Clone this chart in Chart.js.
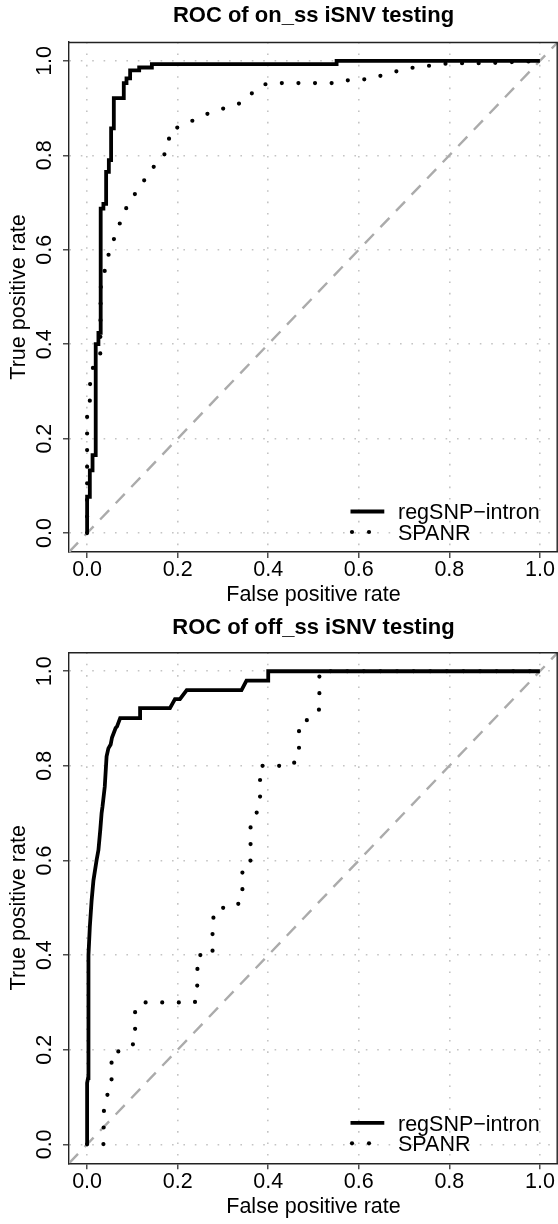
<!DOCTYPE html>
<html><head><meta charset="utf-8">
<script src="https://cdn.jsdelivr.net/npm/chart.js@4.4.1/dist/chart.umd.min.js"></script>
<style>html,body{margin:0;padding:0;background:#fff;overflow:hidden;} canvas{display:block;}</style>
</head><body>
<canvas id="c1" width="558" height="612"></canvas>
<canvas id="c2" width="558" height="612"></canvas>
<script>
// ---- data ----
const titles = ['ROC of on_ss iSNV testing', 'ROC of off_ss iSNV testing'];
const seriesNames = ['regSNP\u2212intron', 'SPANR'];
const xAxisTitle = 'False positive rate';
const yAxisTitle = 'True positive rate';
const tickValues = [0, 0.2, 0.4, 0.6, 0.8, 1.0];
const tickLabels = ['0.0', '0.2', '0.4', '0.6', '0.8', '1.0'];
const axisRange = [-0.04, 1.04];

// on_ss: regSNP-intron
const onRegFpr = [0, 0, 0.006, 0.006, 0.012, 0.012, 0.019, 0.019, 0.025, 0.025, 0.030, 0.030, 0.036, 0.036, 0.042, 0.042, 0.048, 0.048, 0.053, 0.053, 0.059, 0.059, 0.081, 0.081, 0.087, 0.087, 0.095, 0.095, 0.115, 0.115, 0.143, 0.143, 0.551, 0.551, 1];
const onRegTpr = [0, 0.077, 0.077, 0.133, 0.133, 0.165, 0.165, 0.400, 0.400, 0.424, 0.424, 0.687, 0.687, 0.697, 0.697, 0.765, 0.765, 0.790, 0.790, 0.857, 0.857, 0.921, 0.921, 0.953, 0.953, 0.963, 0.963, 0.980, 0.980, 0.986, 0.986, 0.993, 0.993, 1, 1];
// on_ss: SPANR
const onSpFpr = [0, 0, 0.006, 0.006, 0.010, 0.023, 0.029, 0.030, 0.034, 0.048, 0.067, 0.089, 0.118, 0.148, 0.167, 0.180, 0.182, 0.209, 0.257, 0.313, 0.340, 0.380, 0.400, 0.555, 0.583, 0.620, 0.706, 0.800, 0.880, 1];
const onSpTpr = [0, 0.26, 0.28, 0.31, 0.345, 0.367, 0.375, 0.52, 0.536, 0.592, 0.644, 0.694, 0.736, 0.777, 0.795, 0.820, 0.853, 0.862, 0.885, 0.903, 0.911, 0.945, 0.953, 0.953, 0.961, 0.961, 0.984, 0.995, 0.995, 1];
// off_ss: regSNP-intron
const offRegFpr = [0, 0, 0.002, 0.002, 0.004, 0.006, 0.010, 0.014, 0.021, 0.025, 0.029, 0.032, 0.034, 0.039, 0.043, 0.047, 0.052, 0.055, 0.063, 0.066, 0.073, 0.117, 0.117, 0.183, 0.194, 0.205, 0.220, 0.341, 0.352, 0.400, 0.400, 1];
const offRegTpr = [0, 0.13, 0.14, 0.30, 0.40, 0.46, 0.516, 0.558, 0.601, 0.622, 0.664, 0.700, 0.714, 0.756, 0.820, 0.837, 0.845, 0.860, 0.880, 0.883, 0.901, 0.901, 0.922, 0.922, 0.941, 0.941, 0.960, 0.960, 0.980, 0.980, 1, 1];
// off_ss: SPANR
const offSpFpr = [0, 0.036, 0.037, 0.042, 0.054, 0.054, 0.085, 0.106, 0.106, 0.128, 0.238, 0.243, 0.244, 0.277, 0.277, 0.287, 0.324, 0.343, 0.343, 0.361, 0.361, 0.374, 0.382, 0.382, 0.452, 0.468, 0.468, 0.496, 0.513, 0.513, 1];
const offSpTpr = [0, 0, 0.07, 0.10, 0.12, 0.193, 0.20, 0.215, 0.29, 0.30, 0.30, 0.32, 0.40, 0.40, 0.474, 0.50, 0.50, 0.516, 0.59, 0.60, 0.68, 0.70, 0.72, 0.80, 0.80, 0.82, 0.891, 0.90, 0.92, 1.0, 1];

// ---- rendering ----
const FONT = "'Liberation Sans', Arial, Helvetica, sans-serif";
const FS = 21.5;
const zipPts = (xs, ys) => xs.map((x, i) => ({x: x, y: ys[i]}));

const boxPlugin = {
  id: 'rBox',
  afterDraw(chart) {
    const {ctx, chartArea: a} = chart;
    ctx.save();
    ctx.strokeStyle = '#222'; ctx.lineWidth = 1.4;
    ctx.beginPath();
    ctx.moveTo(a.left, a.top + 0.5);
    ctx.lineTo(a.right - 0.8, a.top + 0.5);
    ctx.lineTo(a.right - 0.8, a.bottom);
    ctx.stroke();
    ctx.restore();
  }
};

const legendPlugin = {
  id: 'rLegend',
  afterDraw(chart) {
    const {ctx, chartArea: a} = chart;
    const x0 = a.right - 207.5, x1 = a.right - 173.7, tx = a.right - 160;
    const y1 = a.bottom - 40.5, y2 = a.bottom - 20;
    ctx.save();
    ctx.strokeStyle = '#000'; ctx.lineWidth = 3.8; ctx.lineCap = 'butt';
    ctx.beginPath(); ctx.moveTo(x0, y1); ctx.lineTo(x1, y1); ctx.stroke();
    ctx.fillStyle = '#000';
    [a.right - 206, a.right - 189].forEach(px => { ctx.beginPath(); ctx.arc(px, y2, 2.1, 0, 2 * Math.PI); ctx.fill(); });
    ctx.font = FS + 'px ' + FONT; ctx.textBaseline = 'middle'; ctx.textAlign = 'left';
    ctx.fillText(seriesNames[0], tx, y1 + 2);
    ctx.fillText(seriesNames[1], tx, y2 + 2);
    ctx.restore();
  }
};

function axisCommon(extra) {
  return Object.assign({
    type: 'linear',
    min: axisRange[0], max: axisRange[1],
    afterBuildTicks: s => { s.ticks = tickValues.map(v => ({value: v})); },
    grid: {color: '#c4c4c4', lineWidth: 1.6, drawTicks: true, tickLength: 6, tickColor: '#222', tickWidth: 1.2, tickBorderDash: []},
    border: {display: true, color: '#222', width: 1.4, dash: [1.6, 9.8]}
  }, extra);
}

function makeChart(id, cfg) {
  return new Chart(document.getElementById(id), {
    type: 'scatter',
    data: {
      datasets: [
        {label: seriesNames[0], data: zipPts(cfg.regFpr, cfg.regTpr), showLine: true, borderColor: '#000', borderWidth: 3.8, pointRadius: 0, borderJoinStyle: 'miter', borderCapStyle: 'butt', order: 0},
        {label: seriesNames[1], data: zipPts(cfg.spFpr, cfg.spTpr), showLine: true, borderColor: '#000', borderWidth: 4.2, borderDash: [0, 16.6], borderCapStyle: 'round', pointRadius: 0, order: 1},
        {label: 'chance', data: zipPts(axisRange, axisRange), showLine: true, borderColor: '#ababab', borderWidth: 2.4, borderDash: [13, 9.5], pointRadius: 0, order: 2}
      ]
    },
    options: {
      responsive: false, animation: false, devicePixelRatio: 1,
      layout: {padding: 0},
      events: [],
      plugins: {
        legend: {display: false}, tooltip: {enabled: false},
        title: {display: true, fullSize: false, text: cfg.title, color: '#000', font: {family: FONT, size: 22, weight: 'bold', lineHeight: 1.2}, padding: {top: cfg.tTop, bottom: cfg.tBottom}}
      },
      scales: {
        x: axisCommon({
          position: 'bottom',
          afterFit: s => { s.height = cfg.xH; },
          ticks: {color: '#000', font: {family: FONT, size: FS}, padding: -0.5, maxRotation: 0, minRotation: 0, callback: (v, i) => tickLabels[i]},
          title: {display: true, text: xAxisTitle, color: '#000', font: {family: FONT, size: FS}, padding: {top: 0, bottom: 4.5}}
        }),
        y: axisCommon({
          position: 'left',
          afterFit: s => { s.width = 69; },
          ticks: {color: '#000', font: {family: FONT, size: FS}, padding: 2.6, minRotation: 90, maxRotation: 90, crossAlign: 'center', callback: (v, i) => tickLabels[i]},
          title: {display: true, text: yAxisTitle, color: '#000', font: {family: FONT, size: FS}, padding: {top: 6.6, bottom: 0}}
        })
      }
    },
    plugins: [boxPlugin, legendPlugin]
  });
}

makeChart('c1', {title: titles[0], regFpr: onRegFpr, regTpr: onRegTpr, spFpr: onSpFpr, spTpr: onSpTpr, tTop: 3.2, tBottom: 12.4, xH: 60});
makeChart('c2', {title: titles[1], regFpr: offRegFpr, regTpr: offRegTpr, spFpr: offSpFpr, spTpr: offSpTpr, tTop: 2.5, tBottom: 11.4, xH: 60.7});
</script>
</body></html>
